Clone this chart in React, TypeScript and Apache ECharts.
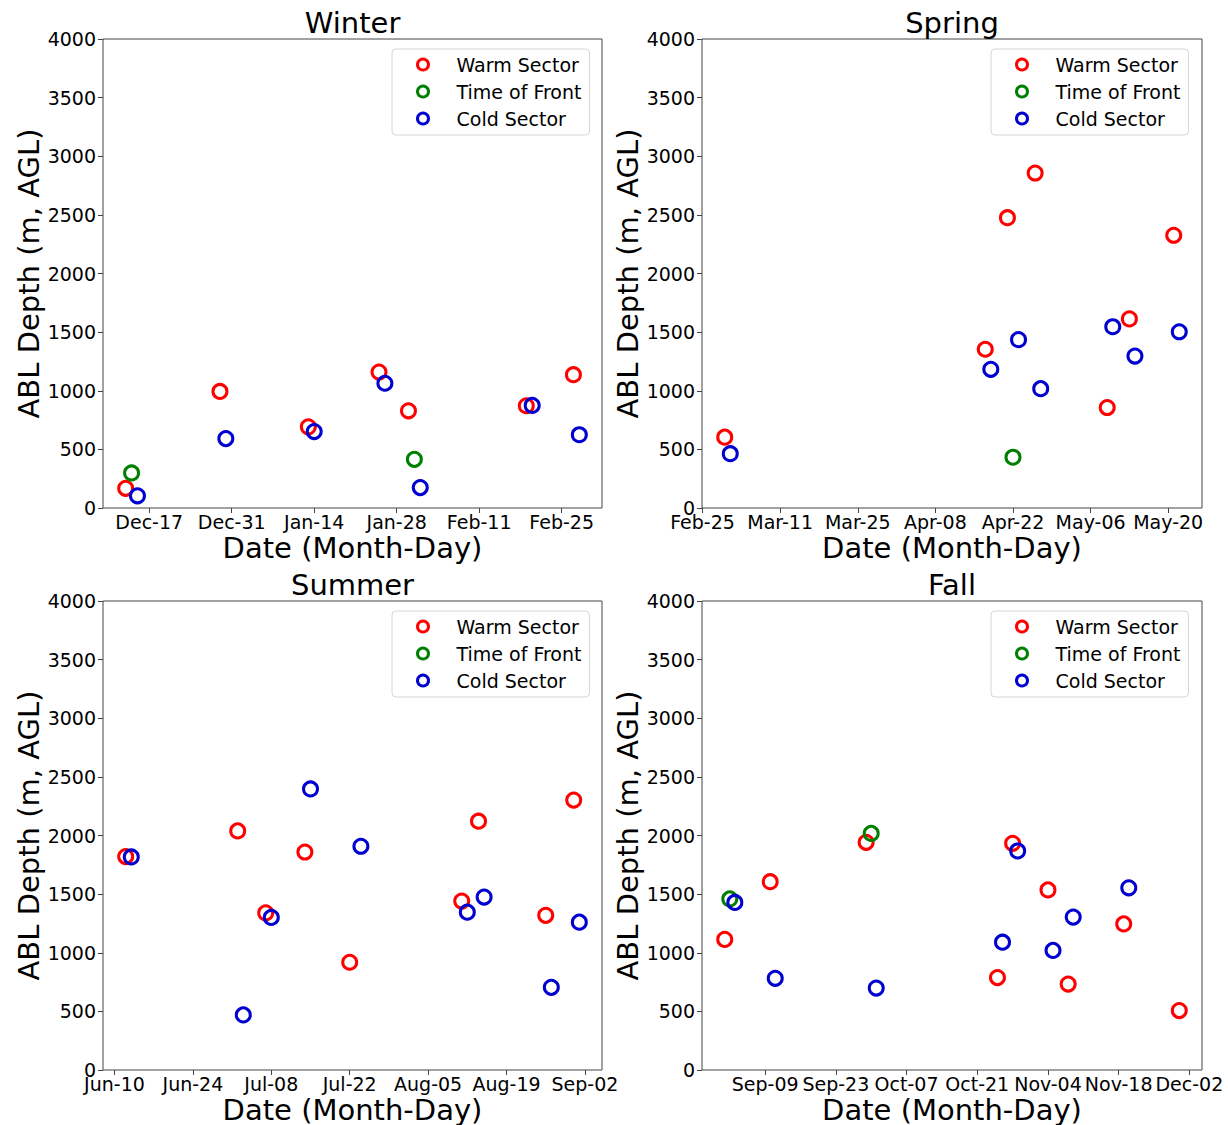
import React, { useEffect, useRef } from 'react';
import * as echarts from 'echarts';

// ---------- DATA ----------
const MONTHS = ['Jan', 'Feb', 'Mar', 'Apr', 'May', 'Jun', 'Jul', 'Aug', 'Sep', 'Oct', 'Nov', 'Dec'];
const SEASONS = ['Winter', 'Spring', 'Summer', 'Fall'];
const SERIES_NAMES = ['Warm Sector', 'Time of Front', 'Cold Sector'];
const SERIES_COLORS = ['#ff0000', '#008000', '#0000d0'];
const X_NAME = 'Date (Month-Day)';
const Y_NAME = 'ABL Depth (m, AGL)';

// [date, ABL depth (m)]
const winterWarm: [string, number][] = [
  ['2020-12-13', 168], ['2020-12-29', 994], ['2021-01-13', 692], ['2021-01-25', 1159],
  ['2021-01-30', 829], ['2021-02-19', 872], ['2021-02-27', 1137],
];
const winterFront: [string, number][] = [['2020-12-14', 299], ['2021-01-31', 415]];
const winterCold: [string, number][] = [
  ['2020-12-15', 104], ['2020-12-30', 592], ['2021-01-14', 652], ['2021-01-26', 1064],
  ['2021-02-01', 174], ['2021-02-20', 875], ['2021-02-28', 625],
];

const springWarm: [string, number][] = [
  ['2021-03-01', 604], ['2021-04-17', 1354], ['2021-04-21', 2476], ['2021-04-26', 2857],
  ['2021-05-09', 857], ['2021-05-13', 1613], ['2021-05-21', 2326],
];
const springFront: [string, number][] = [['2021-04-22', 433]];
const springCold: [string, number][] = [
  ['2021-03-02', 463], ['2021-04-18', 1183], ['2021-04-23', 1436], ['2021-04-27', 1018],
  ['2021-05-10', 1546], ['2021-05-14', 1296], ['2021-05-22', 1503],
];

const summerWarm: [string, number][] = [
  ['2021-06-12', 1820], ['2021-07-02', 2039], ['2021-07-07', 1340], ['2021-07-14', 1859],
  ['2021-07-22', 919], ['2021-08-11', 1441], ['2021-08-14', 2122], ['2021-08-26', 1319],
  ['2021-08-31', 2302],
];
const summerFront: [string, number][] = [];
const summerCold: [string, number][] = [
  ['2021-06-13', 1817], ['2021-07-03', 470], ['2021-07-08', 1301], ['2021-07-15', 2397],
  ['2021-07-24', 1908], ['2021-08-12', 1346], ['2021-08-15', 1475], ['2021-08-27', 705],
  ['2021-09-01', 1261],
];

const fallWarm: [string, number][] = [
  ['2021-09-01', 1114], ['2021-09-10', 1606], ['2021-09-29', 1942], ['2021-10-25', 788],
  ['2021-10-28', 1933], ['2021-11-04', 1536], ['2021-11-08', 733], ['2021-11-19', 1246],
  ['2021-11-30', 507],
];
const fallFront: [string, number][] = [['2021-09-02', 1459], ['2021-09-30', 2018]];
const fallCold: [string, number][] = [
  ['2021-09-03', 1429], ['2021-09-11', 782], ['2021-10-01', 699], ['2021-10-26', 1090],
  ['2021-10-29', 1868], ['2021-11-05', 1020], ['2021-11-09', 1304], ['2021-11-20', 1554],
];

const winterTicks = ['2020-12-17', '2020-12-31', '2021-01-14', '2021-01-28', '2021-02-11', '2021-02-25'];
const springTicks = ['2021-02-25', '2021-03-11', '2021-03-25', '2021-04-08', '2021-04-22', '2021-05-06', '2021-05-20'];
const summerTicks = ['2021-06-10', '2021-06-24', '2021-07-08', '2021-07-22', '2021-08-05', '2021-08-19', '2021-09-02'];
const fallTicks = ['2021-09-09', '2021-09-23', '2021-10-07', '2021-10-21', '2021-11-04', '2021-11-18', '2021-12-02'];

const Y_MIN = 0;
const Y_MAX = 4000;
const Y_STEP = 500;

const seasonData = [
  [winterWarm, winterFront, winterCold],
  [springWarm, springFront, springCold],
  [summerWarm, summerFront, summerCold],
  [fallWarm, fallFront, fallCold],
];
const seasonTicks = [winterTicks, springTicks, summerTicks, fallTicks];

// ---------- LAYOUT ----------
const FONT = 'DejaVu Sans';
const PANELS = [
  { left: 103, top: 39, width: 499 },
  { left: 702, top: 39, width: 500 },
  { left: 103, top: 601, width: 499 },
  { left: 702, top: 601, width: 500 },
];
const PANEL_H = 469;
const SPINE = '#444';

const DAY_MS = 86400000;
function toDay(s: string): number {
  const [y, m, d] = s.split('-').map(Number);
  return Date.UTC(y, m - 1, d) / DAY_MS;
}
function fmtDay(v: number): string {
  const dt = new Date(Math.round(v) * DAY_MS);
  return MONTHS[dt.getUTCMonth()] + '-' + String(dt.getUTCDate()).padStart(2, '0');
}

function buildOption() {
  const grid: any[] = [];
  const xAxis: any[] = [];
  const yAxis: any[] = [];
  const series: any[] = [];
  const legend: any[] = [];
  const graphic: any[] = [];

  PANELS.forEach((p, i) => {
    grid.push({
      left: p.left, top: p.top, width: p.width, height: PANEL_H,
      show: true, borderColor: SPINE, borderWidth: 1, backgroundColor: 'transparent',
    });
    const ticks = seasonTicks[i].map(toDay);
    xAxis.push({
      type: 'value', gridIndex: i,
      min: (v: any) => v.min - 0.05 * (v.max - v.min),
      max: (v: any) => v.max + 0.05 * (v.max - v.min),
      name: X_NAME, nameLocation: 'middle', nameGap: 25,
      nameTextStyle: { fontSize: 29, color: '#000', fontFamily: FONT },
      axisLine: { show: false },
      splitLine: { show: false },
      axisTick: { show: true, length: 5, lineStyle: { color: SPINE, width: 1 }, customValues: ticks },
      axisLabel: { customValues: ticks, formatter: (v: number) => fmtDay(v), fontSize: 19, color: '#000', fontFamily: FONT, margin: 4 },
    });
    yAxis.push({
      type: 'value', gridIndex: i, min: Y_MIN, max: Y_MAX, interval: Y_STEP,
      name: Y_NAME, nameLocation: 'middle', nameGap: 57,
      nameTextStyle: { fontSize: 29, color: '#000', fontFamily: FONT },
      axisLine: { show: false },
      splitLine: { show: false },
      axisTick: { show: true, length: 5, lineStyle: { color: SPINE, width: 1 } },
      axisLabel: { formatter: (v: number) => String(v), fontSize: 19, color: '#000', fontFamily: FONT, margin: 7 },
    });
    SERIES_NAMES.forEach((name, k) => {
      series.push({
        type: 'scatter', name, xAxisIndex: i, yAxisIndex: i,
        symbol: 'circle', symbolSize: 14, silent: true,
        itemStyle: { color: 'rgba(0,0,0,0)', borderColor: SERIES_COLORS[k], borderWidth: 3, opacity: 1 },
        emphasis: { disabled: true },
        data: seasonData[i][k].map(([d, v]) => [toDay(d), v]),
      });
    });
    legend.push({
      orient: 'vertical', left: p.left + 289, top: p.top + 10,
      itemWidth: 11, itemHeight: 11, itemGap: 8,
      padding: [6, 8, 7, 24],
      backgroundColor: 'rgba(255,255,255,0.8)', borderColor: '#d6d6d6', borderWidth: 1, borderRadius: 4,
      selectedMode: false,
      icon: 'circle',
      formatter: (n: string) => `{n|${n}}`,
      textStyle: {
        fontSize: 19, color: '#000', fontFamily: FONT,
        rich: { n: { padding: [0, 0, 0, 23], fontSize: 19, color: '#000', fontFamily: FONT } },
      },
      data: SERIES_NAMES.map((name, k) => ({
        name,
        itemStyle: { color: 'rgba(0,0,0,0)', borderColor: SERIES_COLORS[k], borderWidth: 3 },
      })),
    });
    graphic.push({
      type: 'text', x: p.left + p.width / 2, y: p.top - 31,
      style: { text: SEASONS[i], fontSize: 29, fontFamily: FONT, fill: '#000', align: 'center', verticalAlign: 'top' },
    });
  });

  return { animation: false, backgroundColor: '#fff', grid, xAxis, yAxis, series, legend, graphic };
}

export default function App() {
  const ref = useRef<HTMLDivElement>(null);
  useEffect(() => {
    if (!ref.current) return;
    const chart = echarts.init(ref.current, undefined, { renderer: 'svg' });
    chart.setOption(buildOption() as any);
    return () => chart.dispose();
  }, []);
  return <div ref={ref} style={{ position: 'absolute', left: 0, top: 0, width: 1228, height: 1125 }} />;
}
